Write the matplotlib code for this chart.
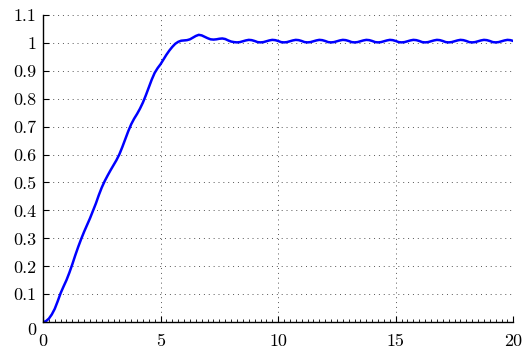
import matplotlib
matplotlib.use("Agg")
import matplotlib.pyplot as plt
from matplotlib.ticker import MultipleLocator, FuncFormatter

plt.rcParams['font.family'] = ['cmr10', 'DejaVu Serif']
plt.rcParams['axes.formatter.use_mathtext'] = True

# step response, sampled every 0.125 s
t = [i * 0.125 for i in range(161)]
y_rise = [0.0, 0.004, 0.013, 0.028, 0.048, 0.075, 0.104, 0.128,
          0.151, 0.178, 0.208, 0.240, 0.270, 0.298, 0.324, 0.348,
          0.372, 0.398, 0.425, 0.455, 0.482, 0.505, 0.525, 0.544,
          0.562, 0.580, 0.601, 0.627, 0.655, 0.683, 0.708, 0.728,
          0.745, 0.764, 0.786, 0.812, 0.840, 0.868, 0.892, 0.909,
          0.923, 0.940, 0.957, 0.972, 0.985, 0.996, 1.003, 1.007,
          1.008, 1.009, 1.012, 1.018, 1.024, 1.028, 1.026, 1.021,
          1.016, 1.012, 1.011, 1.012, 1.014, 1.015, 1.013, 1.008,
          1.004]
# ripple after settling, one period per second
y_settled = [1.002, 1.001, 1.002, 1.005, 1.008, 1.010, 1.009, 1.006] * 12
y = y_rise + y_settled

fig = plt.figure(figsize=(5.26, 3.56), dpi=100)
ax = fig.add_axes([0.0817, 0.0947, 0.8942, 0.864])

ax.plot(t, y, color='#0000ff', linewidth=1.8)

ax.set_xlim(0, 20)
ax.set_ylim(0, 1.1)
ax.xaxis.set_major_locator(MultipleLocator(5))
ax.xaxis.set_minor_locator(MultipleLocator(0.25))
ax.yaxis.set_major_locator(MultipleLocator(0.1))
# the y "0" sits a bit lower, drawn separately below
ax.yaxis.set_major_formatter(FuncFormatter(lambda v, p: '' if abs(v) < 1e-9 else '%g' % round(v, 2)))
ax.xaxis.set_major_formatter(FuncFormatter(lambda v, p: '%g' % v))
ax.annotate('0', xy=(0, 0), xycoords='axes fraction', xytext=(-5, -6),
            textcoords='offset points', ha='right', va='center', fontsize=13)

ax.grid(True, which='major', color='#555555', linestyle=(0, (1, 4)), linewidth=0.7)
for s in ['top', 'right']:
    ax.spines[s].set_visible(False)
for s in ['left', 'bottom']:
    ax.spines[s].set_linewidth(1.0)

ax.tick_params(which='major', direction='in', length=4, width=0.8, labelsize=13)
ax.tick_params(which='minor', direction='in', length=2, width=0.6)
ax.tick_params(axis='y', pad=5)
ax.tick_params(axis='x', pad=8)
ax.tick_params(top=False, right=False)

fig.savefig('out.png', dpi=100)
